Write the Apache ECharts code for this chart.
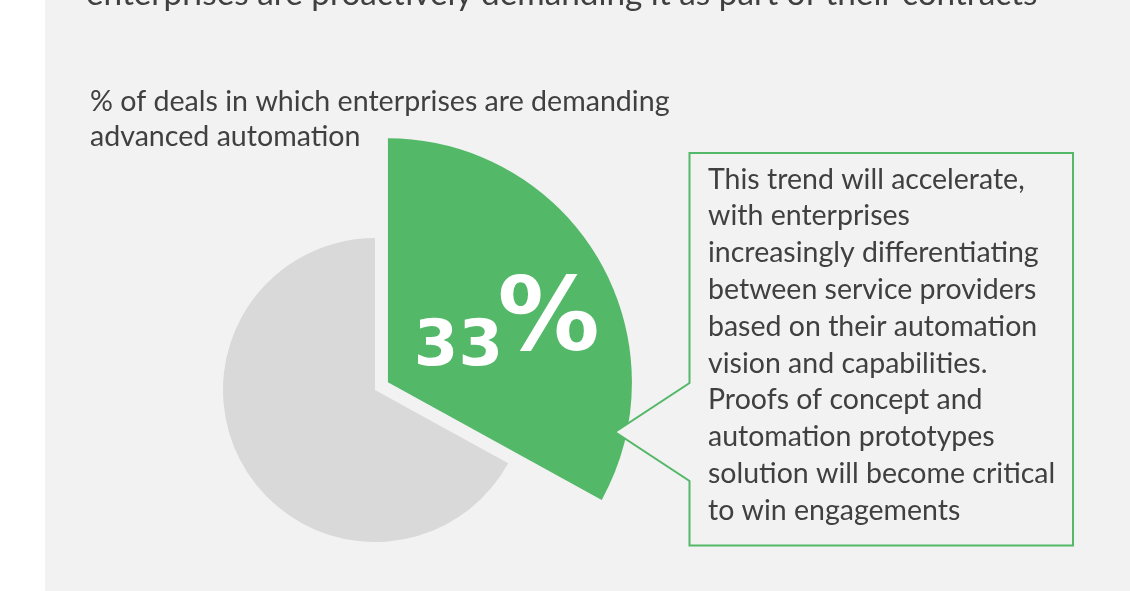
<!DOCTYPE html>
<html><head><meta charset="utf-8">
<script src="https://cdn.jsdelivr.net/npm/echarts@6/dist/echarts.min.js"></script>
<style>html,body{margin:0;padding:0;background:#fff}#c{width:1130px;height:591px}</style>
</head><body><div id="c"></div>
<script>
const categories = ['Deals demanding advanced automation', 'Other deals'];
const values = [33, 67];
const headline = 'enterprises are proactively demanding it as part of their contracts';
const subtitleLines = ['% of deals in which enterprises are demanding', 'advanced automation'];
const calloutLines = [
  'This trend will accelerate,',
  'with enterprises',
  'increasingly differentiating',
  'between service providers',
  'based on their automation',
  'vision and capabilities.',
  'Proofs of concept and',
  'automation prototypes',
  'solution will become critical',
  'to win engagements'
];

const GREEN = '#53b867', GREY = '#d9d9d9', BG = '#f2f2f2', TXT = '#404040', CLEAR = 'rgba(0,0,0,0)';
const chart = echarts.init(document.getElementById('c'));

chart.setOption({
  animation: false,
  backgroundColor: '#ffffff',
  graphic: [
    { type: 'rect', z: -10, silent: true, shape: { x: 45, y: 0, width: 1085, height: 591 }, style: { fill: BG } },
    { type: 'text', z: 5, x: 86, y: -6, style: { text: headline, fontFamily: 'Lato', fontSize: 33.3, fill: TXT, align: 'left', verticalAlign: 'middle' } },
    { type: 'text', z: 5, x: 90, y: 84, style: { text: subtitleLines.join('\n'), fontFamily: 'Lato', fontSize: 28.6, lineHeight: 35, fill: TXT, align: 'left', verticalAlign: 'top' } },
    { type: 'polygon', z: 20, shape: { points: [[689.5,153],[1073,153],[1073,545.5],[689.5,545.5],[689.5,481],[615,432],[689.5,383]] },
      style: { fill: BG, stroke: GREEN, lineWidth: 2, lineJoin: 'miter' } },
    { type: 'text', z: 21, x: 708, y: 161, style: { text: calloutLines.join('\n'), fontFamily: 'Lato', fontSize: 28.5, lineHeight: 36.8, fill: TXT, align: 'left', verticalAlign: 'top' } }
  ],
  series: [
    {
      type: 'pie', z: 2, silent: true,
      center: [375, 390], radius: [0, 152], startAngle: 90, clockwise: true,
      label: { show: false }, labelLine: { show: false },
      data: categories.map((n, i) => ({ name: n, value: values[i], itemStyle: { color: i === 1 ? GREY : CLEAR } }))
    },
    {
      type: 'pie', z: 3, silent: true,
      center: [375, 390], radius: [0, 244], startAngle: 90, clockwise: true,
      selectedMode: 'single', selectedOffset: 15,
      avoidLabelOverlap: false,
      labelLine: { show: false },
      select: { itemStyle: { color: GREEN } },
      label: {
        show: true, position: 'inside',
        formatter: p => '{num|' + p.value + '}{pct|%}',
        rich: {
          num: { fontFamily: 'DejaVu Sans', fontWeight: 'bold', fontSize: 64, color: '#ffffff', width: 78 },
          pct: { fontFamily: 'DejaVu Sans', fontWeight: 'bold', fontSize: 102, color: '#ffffff', padding: [0, 0, 50, 0] }
        }
      },
      labelLayout: { dx: 14, dy: 30 },
      data: categories.map((n, i) => ({
        name: n, value: values[i], selected: i === 0,
        itemStyle: { color: i === 0 ? GREEN : CLEAR },
        label: { show: i === 0 }
      }))
    }
  ]
});
</script></body></html>
